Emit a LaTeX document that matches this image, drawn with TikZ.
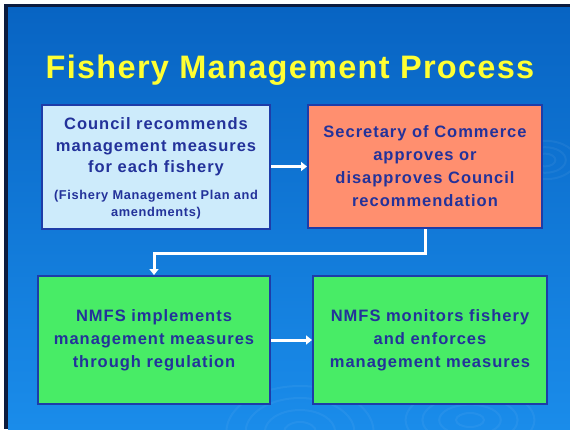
\documentclass[tikz,border=0pt]{standalone}
\usepackage{fontspec}
\setmainfont{Liberation Sans}
\newfontfamily\titlefont[LetterSpace=4]{Liberation Sans}
\newfontfamily\boxfont[LetterSpace=6]{Liberation Sans}
\newfontfamily\smallfont[LetterSpace=5]{Liberation Sans}
\usetikzlibrary{arrows.meta}
\definecolor{bgtop}{HTML}{0864C3}
\definecolor{bgmid}{HTML}{066BC5}
\definecolor{bgbot}{HTML}{1A8CEA}
\definecolor{frame}{HTML}{0B1B3E}
\definecolor{boxline}{HTML}{1E3CA8}
\definecolor{boxtext}{HTML}{23329A}
\definecolor{titley}{HTML}{FFFF33}
\definecolor{fillblue}{HTML}{CDEBFB}
\definecolor{fillsalmon}{HTML}{FF8F6F}
\definecolor{fillgreen}{HTML}{48EC66}
\tikzset{
  procbox/.style={draw=boxline, line width=2pt, rectangle, inner sep=0pt, text=boxtext, align=center,
    font=\boxfont\bfseries\fontsize{16.5}{23}\selectfont},
  flow/.style={draw=white, line width=3pt, -{Triangle[width=9pt,length=6pt]}},
  ripple/.style={draw=white, opacity=0.05, line width=2pt}
}
\begin{document}
\begin{tikzpicture}[x=1pt,y=-1pt]
\useasboundingbox (0,0) rectangle (570,429);
\fill[white] (0,0) rectangle (570,429);
\fill[frame] (4,4) rectangle (570,429);
\shade[top color=bgtop, middle color=bgmid, bottom color=bgbot] (8,7) rectangle (570,429);
% faint ripples
\foreach \r in {10,22,34,46} {
  \draw[ripple] (300,432) ellipse ({\r*1.6} and \r);
  \draw[ripple] (470,420) ellipse ({\r*1.4} and {\r*0.7});
}
\foreach \r in {8,16,24} {
  \draw[ripple] (545,160) ellipse ({\r*1.3} and {\r*0.8});
}
% title
\node[anchor=base, text=titley, font=\titlefont\bfseries\fontsize{32.5}{36}\selectfont] (title) at (290,78) {Fishery Management Process};
% boxes
\node[procbox, fill=fillblue, minimum width=228pt, minimum height=124pt] (b1) at (156,166.5) {};
\node[text=boxtext, align=center, font=\boxfont\bfseries\fontsize{16.5}{21.5}\selectfont] (t1) at (156,147) {Council recommends\\management measures\\for each fishery};
\node[text=boxtext, align=center, font=\smallfont\bfseries\fontsize{12.8}{17}\selectfont] (t1s) at (156,205) {(Fishery Management Plan and\\amendments)};
\node[procbox, fill=fillsalmon, minimum width=234pt, minimum height=123pt] (b2) at (425,166.5) {Secretary of Commerce\\approves or\\disapproves Council\\recommendation};
\node[procbox, fill=fillgreen, minimum width=232pt, minimum height=128pt] (b3) at (154,340) {NMFS implements\\management measures\\through regulation};
\node[procbox, fill=fillgreen, minimum width=234pt, minimum height=128pt] (b4) at (430,340) {NMFS monitors fishery\\and enforces\\management measures};
% connectors
\draw[flow] (b1.east) -- (b2.west);
\draw[flow] (b2.south) -- ++(0,24) -| (b3.north);
\draw[flow] (b3.east) -- (b4.west);
\end{tikzpicture}
\end{document}
